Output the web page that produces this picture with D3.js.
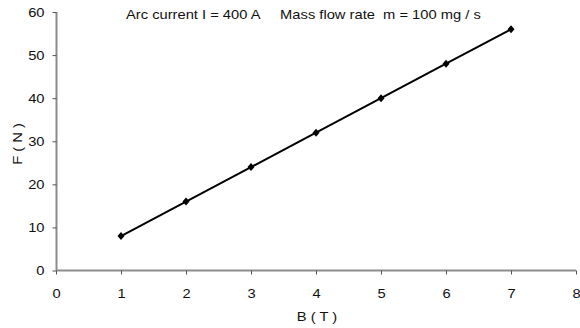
<!DOCTYPE html>
<html>
<head>
<meta charset="utf-8">
<script src="https://cdn.jsdelivr.net/npm/d3@7"></script>
<style>
  body { margin: 0; background: #fff; }
  text { font-family: "Liberation Sans", Arial, sans-serif; }
</style>
</head>
<body>
<svg id="chart" width="580" height="328"></svg>
<script>
const fieldB = [1, 2, 3, 4, 5, 6, 7];
const forceF = [8, 16, 24, 32, 40, 48, 56];
const xTicks = [0, 1, 2, 3, 4, 5, 6, 7, 8];
const yTicks = [0, 10, 20, 30, 40, 50, 60];
const titleText = 'Arc current I = 400 A     Mass flow rate  m = 100 mg / s';

const svg = d3.select('#chart');
const x = d3.scaleLinear().domain([0, 8]).range([56, 576]);
const y = d3.scaleLinear().domain([0, 60]).range([270.5, 12]);

const axisColor = '#8c8c8c';
const fontSize = '12.8px';
const stretch = 1.15; // the original text is a bit wider than Arial

// text helper: places a horizontally stretched label
function label(px, py, str, anchor, rotate) {
    return svg.append('text')
        .attr('transform', `translate(${px},${py})` + (rotate ? ` rotate(${rotate})` : '') + ` scale(${stretch},1)`)
        .attr('text-anchor', anchor || 'start')
        .attr('fill', '#111')
        .attr('xml:space', 'preserve')
        .style('white-space', 'pre')
        .style('font-size', fontSize)
        .text(str);
}

// y axis
const gy = svg.append('g')
    .attr('transform', 'translate(56.5,0)')
    .call(d3.axisLeft(y).tickValues(yTicks).tickSize(4).tickPadding(8));
// x axis
const gx = svg.append('g')
    .attr('transform', 'translate(0,270.5)')
    .call(d3.axisBottom(x).tickValues(xTicks).tickSize(4).tickPadding(14));

[gx, gy].forEach(g => {
    g.select('.domain').attr('stroke', axisColor).attr('stroke-width', 2);
    g.selectAll('.tick line').attr('stroke', '#555');
    g.selectAll('.tick text')
        .attr('fill', '#111')
        .style('font-size', fontSize)
        .style('font-family', '"Liberation Sans", Arial, sans-serif');
});
gy.selectAll('.tick text')
    .attr('x', -12 / stretch)
    .attr('transform', `scale(${stretch},1)`);
gx.selectAll('.tick text')
    .attr('transform', `scale(${stretch},1)`);
gy.select('.domain').attr('d', `M0,${y(60)}V${y(0)}`);
gx.select('.domain').attr('d', `M${x(0)},0H${x(8)}`);

// line
const points = fieldB.map((b, i) => [b, forceF[i]]);
svg.append('path')
    .datum(points)
    .attr('fill', 'none')
    .attr('stroke', '#000')
    .attr('stroke-width', 2)
    .attr('d', d3.line().x(d => x(d[0])).y(d => y(d[1])));

// diamond markers
svg.selectAll('.marker')
    .data(points)
    .join('path')
    .attr('class', 'marker')
    .attr('transform', d => `translate(${x(d[0])},${y(d[1])})`)
    .attr('d', 'M0,-4L3.5,0L0,4L-3.5,0Z')
    .attr('fill', '#000');

// title and axis titles
label(126, 18.5, titleText);
label(317, 320.5, 'B ( T )', 'middle');
label(21.5, 144, 'F ( N )', 'middle', -90);
</script>
</body>
</html>
